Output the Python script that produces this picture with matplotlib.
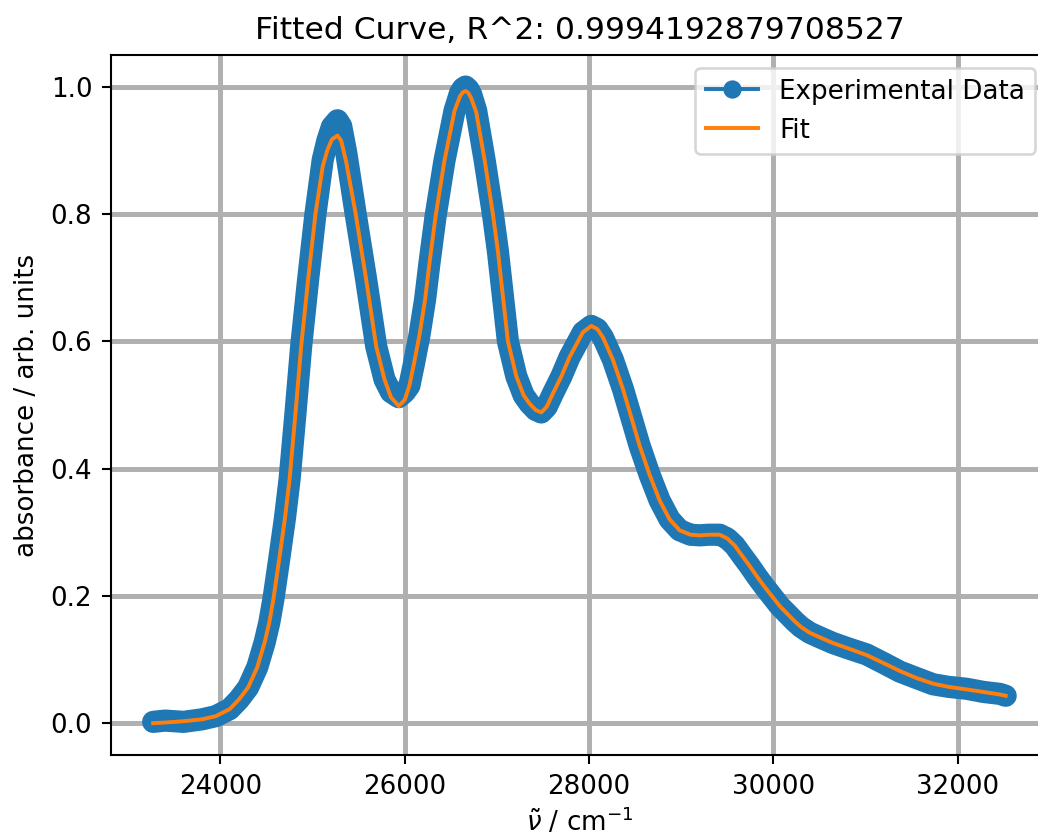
# -*- coding: utf-8 -*-
import matplotlib
matplotlib.use("Agg")
import matplotlib.pyplot as plt
import numpy as np

# wavenumber / cm^-1
wavenumber = [23270, 23400, 23600, 23800, 23950, 24100, 24200, 24300, 24400, 24480,
              24530, 24575, 24640, 24700, 24750, 24810, 24876, 24950, 25031, 25110,
              25160, 25210, 25270, 25310, 25364, 25465, 25581, 25690, 25780, 25850,
              25935, 26000, 26050, 26100, 26160, 26220, 26270, 26335, 26430, 26540,
              26600, 26630, 26660, 26690, 26720, 26775, 26866, 26956, 27010, 27119,
              27210, 27290, 27354, 27420, 27481, 27540, 27608, 27700, 27788, 27933,
              28024, 28090, 28150, 28258, 28367, 28475, 28548, 28657, 28765, 28874,
              28982, 29100, 29200, 29300, 29417, 29500, 29580, 29660, 29742, 29823,
              29905, 30068, 30231, 30300, 30394, 30500, 30643, 30800, 31010, 31200,
              31371, 31550, 31733, 31900, 32095, 32280, 32456, 32520]

fit_y = [0.000, 0.001, 0.003, 0.006, 0.011, 0.022, 0.037, 0.056, 0.088, 0.127,
         0.158, 0.195, 0.260, 0.322, 0.383, 0.480, 0.592, 0.695, 0.800, 0.875,
         0.900, 0.917, 0.923, 0.915, 0.882, 0.802, 0.697, 0.592, 0.540, 0.512,
         0.498, 0.508, 0.530, 0.565, 0.610, 0.665, 0.725, 0.797, 0.883, 0.962,
         0.985, 0.991, 0.993, 0.990, 0.982, 0.960, 0.885, 0.800, 0.742, 0.600,
         0.545, 0.515, 0.502, 0.492, 0.488, 0.497, 0.518, 0.545, 0.575, 0.614,
         0.624, 0.619, 0.606, 0.571, 0.525, 0.472, 0.436, 0.390, 0.350, 0.320,
         0.303, 0.296, 0.295, 0.296, 0.296, 0.290, 0.279, 0.263, 0.247, 0.230,
         0.214, 0.184, 0.160, 0.151, 0.142, 0.135, 0.126, 0.118, 0.107, 0.094,
         0.082, 0.071, 0.062, 0.057, 0.053, 0.049, 0.045, 0.043]

exp_y = [0.002, 0.004, 0.002, 0.006, 0.011, 0.022, 0.037, 0.056, 0.088, 0.127,
         0.158, 0.195, 0.260, 0.322, 0.383, 0.480, 0.592, 0.695, 0.800, 0.885,
         0.915, 0.937, 0.947, 0.938, 0.897, 0.802, 0.697, 0.592, 0.540, 0.520,
         0.512, 0.520, 0.530, 0.565, 0.610, 0.665, 0.725, 0.797, 0.883, 0.962,
         0.990, 0.997, 1.000, 0.996, 0.988, 0.962, 0.885, 0.800, 0.742, 0.600,
         0.545, 0.515, 0.502, 0.492, 0.488, 0.497, 0.518, 0.545, 0.575, 0.614,
         0.624, 0.619, 0.606, 0.571, 0.525, 0.472, 0.436, 0.390, 0.350, 0.320,
         0.303, 0.296, 0.295, 0.296, 0.296, 0.290, 0.279, 0.263, 0.247, 0.230,
         0.214, 0.184, 0.160, 0.151, 0.142, 0.135, 0.126, 0.118, 0.108, 0.094,
         0.081, 0.071, 0.061, 0.057, 0.054, 0.049, 0.046, 0.043]

r2 = 0.9994192879708527


def main():
    dpi = 188
    fig = plt.figure(figsize=(1038.3 / dpi, 836.3 / dpi), dpi=dpi)
    # axes runs a bit past the right edge, like the cropped original
    ax = fig.add_axes([110.5 / 1038, 81 / 836, 937.5 / 1038, 700 / 836])

    x = np.array(wavenumber)
    # thick band so the sparse points look like the dense measured data
    ax.plot(x, exp_y, color="C0", lw=8.5, solid_capstyle="round", solid_joinstyle="round")
    ax.plot(x, exp_y, "o-", color="C0", label="Experimental Data")
    ax.plot(x, fit_y, color="C1", label="Fit")

    ax.grid(color="#b0b0b0", linewidth=1.9)
    ax.set_title("Fitted Curve, R^2: " + str(r2), fontsize=12)
    ax.set_xlabel(r"$\tilde{\nu}$ / cm$^{-1}$", labelpad=2.5)
    ax.set_ylabel("absorbance / arb. units")
    ax.legend(loc="upper right")

    fig.savefig("out.png", dpi=dpi)


if __name__ == '__main__':
    main()
